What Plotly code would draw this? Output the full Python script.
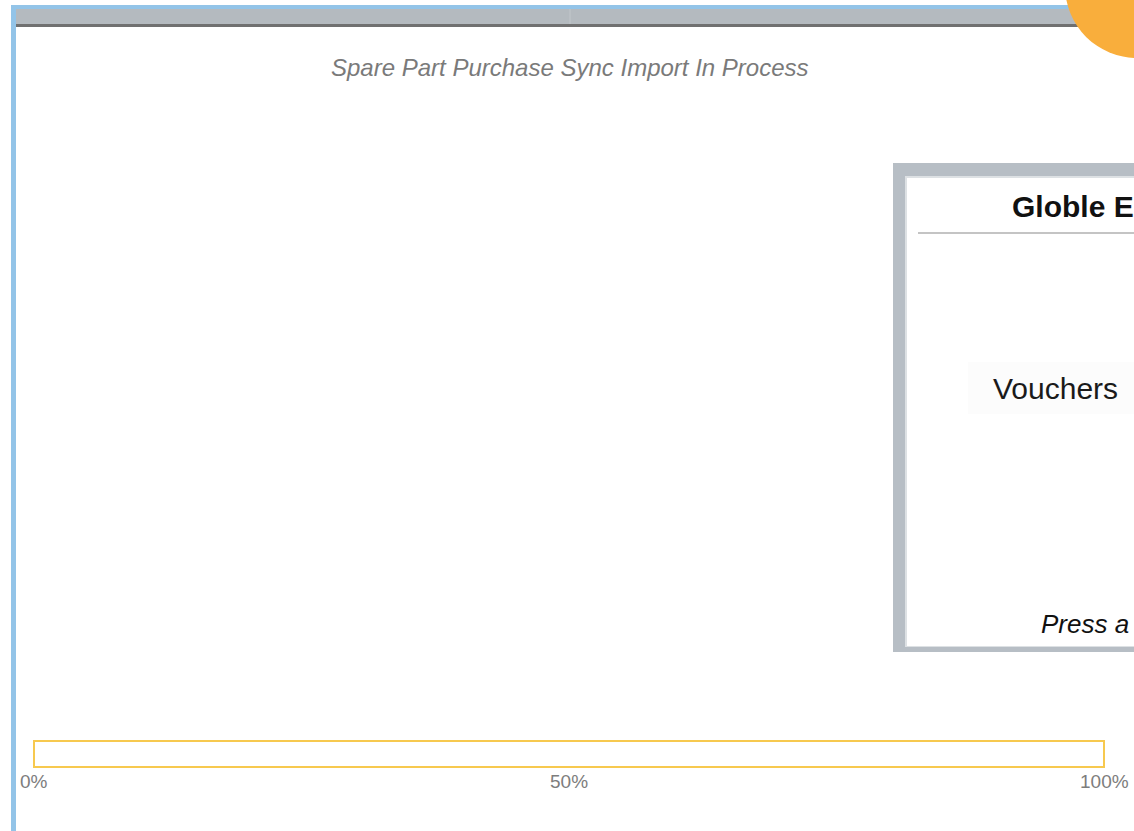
import plotly.graph_objects as go

W, H = 1119, 831

# ---- data ----
progress_label = ["Import"]
progress_value = [0]
track_value = [100]
tick_values = [0, 50, 100]
tick_labels = ["0%", "50%", "100%"]
title_text = "Spare Part Purchase Sync Import In Process"
dialog_title = "Globle E"
dialog_body = "Vouchers"
dialog_footer = "Press a"


def px(x):
    return x / W


def py(y):
    return 1 - y / H


fig = go.Figure()
fig.add_trace(go.Bar(
    x=track_value, y=progress_label, orientation="h", width=1,
    marker=dict(color="white", line=dict(color="#f7c94f", width=2)),
    hoverinfo="skip", showlegend=False,
))
fig.add_trace(go.Bar(
    x=progress_value, y=progress_label, orientation="h", width=1,
    marker=dict(color="#f7b23b", line=dict(width=0)),
    hoverinfo="skip", showlegend=False,
))

shapes = []


def rect(x0, y0, x1, y1, color, layer="below"):
    shapes.append(dict(type="rect", xref="paper", yref="paper",
                       x0=px(x0), x1=px(x1), y0=py(y1), y1=py(y0),
                       fillcolor=color, line=dict(width=0), layer=layer))


# window frame
rect(11, 5, 1140, 9, "#93c4e8")
rect(11, 5, 16, 831, "#93c4e8")
rect(16, 9, 1140, 24, "#b4babf")
rect(16, 24, 1140, 27, "#707070")
shapes.append(dict(type="line", xref="paper", yref="paper",
                   x0=px(570), x1=px(570), y0=py(9), y1=py(24),
                   line=dict(color="#c2c7cb", width=1), layer="below"))

# dialog
rect(893, 163, 1140, 652, "#b7bec5")
rect(905, 176, 1140, 647, "#dde1e4")
rect(907, 178, 1140, 646, "#ffffff")
rect(968, 362, 1140, 414, "#fcfcfc")
shapes.append(dict(type="line", xref="paper", yref="paper",
                   x0=px(918), x1=px(1140), y0=py(233), y1=py(233),
                   line=dict(color="#c4c4c4", width=2), layer="below"))

# orange corner circle
cx, cy, r = 1137, -14, 72
shapes.append(dict(type="circle", xref="paper", yref="paper",
                   x0=px(cx - r), x1=px(cx + r), y0=py(cy + r), y1=py(cy - r),
                   fillcolor="#f9ae3c", line=dict(width=0), layer="above"))

FONT = "Liberation Sans, Arial, sans-serif"
annotations = [
    dict(text=title_text, x=px(570), y=py(68), xref="paper", yref="paper",
         xanchor="center", yanchor="middle", showarrow=False,
         font=dict(family=FONT, size=24, color="#7a7a7a", style="italic")),
    dict(text="<b>" + dialog_title + "</b>", x=px(1010), y=py(206), xref="paper", yref="paper",
         xanchor="left", yanchor="middle", showarrow=False,
         font=dict(family=FONT, size=30, color="#111111")),
    dict(text=dialog_body, x=px(991), y=py(388), xref="paper", yref="paper",
         xanchor="left", yanchor="middle", showarrow=False,
         font=dict(family=FONT, size=30, color="#1a1a1a")),
    dict(text=dialog_footer, x=px(1039), y=py(624), xref="paper", yref="paper",
         xanchor="left", yanchor="middle", showarrow=False,
         font=dict(family=FONT, size=26, color="#111111", style="italic")),
]

# progress scale labels, placed through the x axis scale
for tv, tl in zip(tick_values, tick_labels):
    annotations.append(dict(
        text=tl, x=tv, xref="x", y=py(781), yref="paper",
        xanchor="center", yanchor="middle", showarrow=False,
        font=dict(family=FONT, size=19, color="#7d7d7d"),
    ))

x_lo, x_hi = -1.0, 101.0
bar_left, bar_right = 34, 1104
unit = (bar_right - bar_left) / 100.0
dom_x0 = bar_left + x_lo * unit
dom_x1 = bar_left + x_hi * unit
bar_top, bar_bot = 741, 767
yr = 0.55
hh = (bar_bot - bar_top) * yr
mid = (bar_top + bar_bot) / 2

fig.update_layout(
    width=W, height=H,
    margin=dict(l=0, r=0, t=0, b=0),
    paper_bgcolor="white", plot_bgcolor="rgba(0,0,0,0)",
    barmode="overlay",
    shapes=shapes, annotations=annotations,
    xaxis=dict(domain=[px(dom_x0), min(1.0, px(dom_x1))], range=[x_lo, x_hi],
               tickvals=tick_values, showticklabels=False,
               showgrid=False, zeroline=False, showline=False, ticks="",
               fixedrange=True),
    yaxis=dict(domain=[py(mid + hh), py(mid - hh)], range=[-yr, yr], visible=False,
               fixedrange=True),
    showlegend=False,
)

post = (
    "document.body.style.margin='0';document.body.style.overflow='hidden';"
    "var gd=document.getElementById('{plot_id}');"
    "gd.style.overflow='visible';"
    "gd.querySelectorAll('svg, .svg-container, .plot-container').forEach(function(e){"
    "e.style.overflow='visible';});"
)

fig.write_html(
    "out.html",
    config=dict(displayModeBar=False),
    post_script=post,
)
